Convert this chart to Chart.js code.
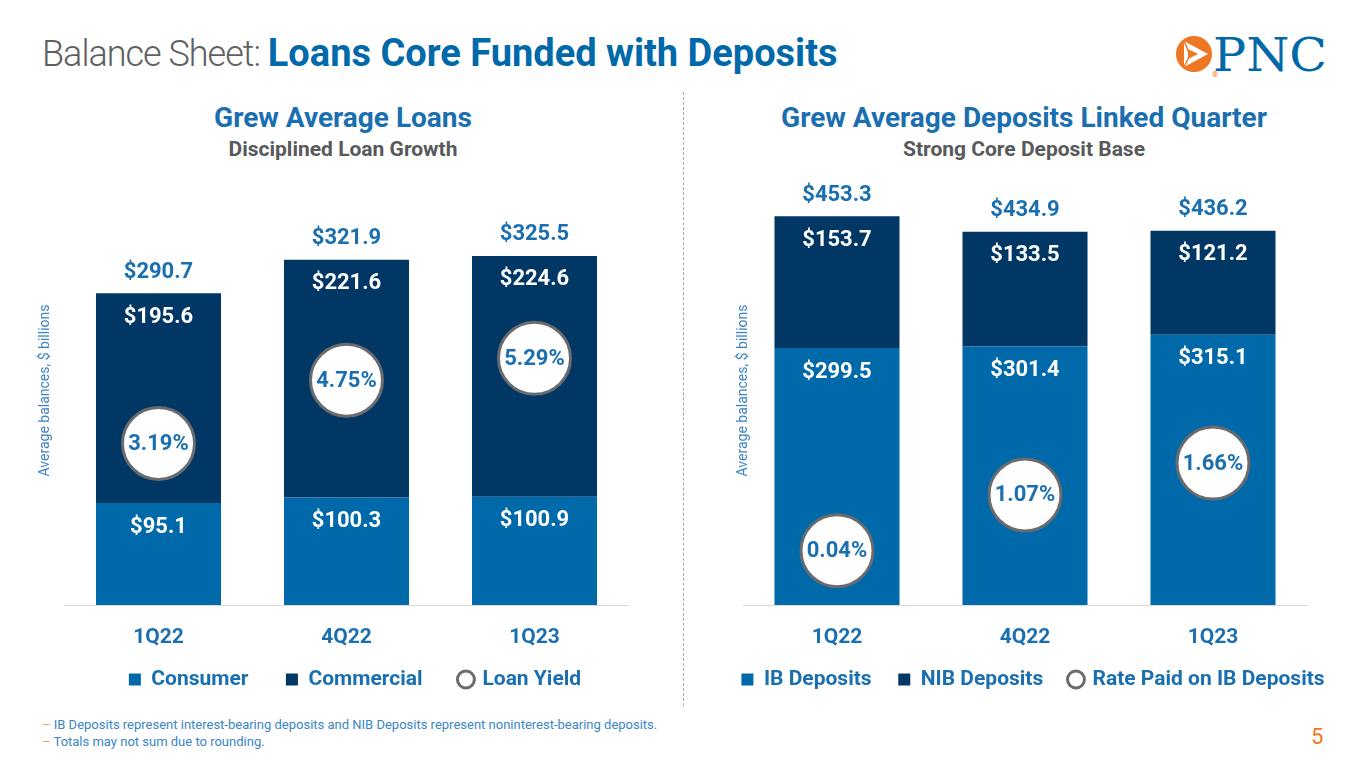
<!DOCTYPE html>
<html>
<head>
<meta charset="utf-8">
<style>
  body {
    margin: 0;
    width: 1365px;
    height: 768px;
    background: #fff;
    font-family: Roboto, 'Noto Sans', sans-serif;
    position: relative;
    overflow: hidden;
  }
  .title { position: absolute; left: 42px; top: 30px; font-size: 38px; line-height: 46px; white-space: nowrap; }
  .title .lead { font-weight: 300; color: #5f6062; font-size: 36px; letter-spacing: -1px; }
  .title .main { font-weight: 700; color: #0069aa; }
  .logo { position: absolute; left: 1165px; top: 25px; }
  .head { position: absolute; top: 101px; width: 600px; text-align: center; white-space: nowrap; }
  .head h2 { margin: 0; font-size: 28px; line-height: 34px; font-weight: 700; color: #1a6fb0; }
  .head h3 { margin: 0; font-size: 21px; line-height: 28px; font-weight: 700; color: #58595b; }
  .divider { position: absolute; left: 683px; top: 92px; height: 614px; border-left: 1px dashed #a6a6a6; }
  .chart { position: absolute; top: 176px; height: 524px; }
  .notes { position: absolute; left: 42px; top: 716px; font-size: 13px; line-height: 17px; color: #3a86c6; }
  .notes span { color: #f0a35e; }
  .page { position: absolute; left: 1311px; top: 724px; font-size: 22px; color: #ef7622; }
</style>
</head>
<body>
  <div class="title"><span class="lead">Balance Sheet: </span><span class="main">Loans Core Funded with Deposits</span></div>

  <svg class="logo" width="170" height="60" viewBox="1165 25 170 60">
    <circle cx="1194" cy="54" r="18" fill="#ef7622"/>
    <polygon points="1184,41 1208,54 1184,67" fill="#fff"/>
    <polygon points="1188,49 1198,54 1188,59" fill="#ef7622"/>
    <line x1="1184" y1="41" x2="1190" y2="55" stroke="#ef7622" stroke-width="1.5"/>
    <line x1="1184" y1="67" x2="1190" y2="55" stroke="#ef7622" stroke-width="1.5"/>
    <text x="1213" y="71" font-family="'DejaVu Serif', serif" font-size="46" fill="#0069aa"
          textLength="114" lengthAdjust="spacingAndGlyphs">PNC</text>
    <text x="1212" y="77" font-family="Roboto" font-size="8" fill="#ef7622">®</text>
  </svg>

  <div class="head" style="left:43px">
    <h2>Grew Average Loans</h2>
    <h3>Disciplined Loan Growth</h3>
  </div>
  <div class="head" style="left:724px">
    <h2>Grew Average Deposits Linked Quarter</h2>
    <h3>Strong Core Deposit Base</h3>
  </div>

  <div class="divider"></div>

  <div class="chart" style="left:20px; width:670px"><canvas id="loansChart"></canvas></div>
  <div class="chart" style="left:723px; width:620px"><canvas id="depositsChart"></canvas></div>

  <div class="notes">
    <div><span>–</span> IB Deposits represent interest-bearing deposits and NIB Deposits represent noninterest-bearing deposits.</div>
    <div><span>–</span> Totals may not sum due to rounding.</div>
  </div>
  <div class="page">5</div>

  <script src="https://cdn.jsdelivr.net/npm/chart.js"></script>
  <script>
    // values, $ billions and %
    const quarters = ['1Q22', '4Q22', '1Q23'];

    const consumer = [95.1, 100.3, 100.9];
    const commercial = [195.6, 221.6, 224.6];
    const loanTotals = [290.7, 321.9, 325.5];
    const loanYield = [3.19, 4.75, 5.29];

    const ibDeposits = [299.5, 301.4, 315.1];
    const nibDeposits = [153.7, 133.5, 121.2];
    const depositTotals = [453.3, 434.9, 436.2];
    const ibRate = [0.04, 1.07, 1.66];

    const lightBlue = '#0069aa';
    const navy = '#003764';
    const textBlue = '#1a6fb0';
    const ringGray = '#6a6b6e';

    Chart.defaults.font.family = 'Roboto';

    // value labels: white inside the segments, blue totals above, % inside the circles
    const valueLabels = {
      id: 'valueLabels',
      afterDatasetsDraw(chart, args, opts) {
        const ctx = chart.ctx;
        ctx.save();
        ctx.textAlign = 'center';
        ctx.textBaseline = 'middle';
        ctx.font = '700 22px Roboto';
        chart.data.datasets.forEach((ds, i) => {
          chart.getDatasetMeta(i).data.forEach((el, j) => {
            const v = ds.data[j];
            if (ds.type === 'line') {
              ctx.fillStyle = textBlue;
              ctx.fillText(v.toFixed(2) + '%', el.x, el.y + 1);
            } else {
              ctx.fillStyle = '#fff';
              ctx.fillText('$' + v.toFixed(1), el.x, el.y + 24);
            }
          });
        });
        const topBars = chart.getDatasetMeta(1).data;
        ctx.fillStyle = textBlue;
        opts.totals.forEach((t, j) => {
          ctx.fillText('$' + t.toFixed(1), topBars[j].x, topBars[j].y - 21);
        });
        ctx.restore();
      }
    };

    function makeChart(id, s) {
      return new Chart(document.getElementById(id), {
        data: {
          labels: quarters,
          datasets: [
            { type: 'bar', label: s.names[0], data: s.lower, backgroundColor: lightBlue,
              pointStyle: 'rect', order: 1, barPercentage: 0.665, categoryPercentage: 1 },
            { type: 'bar', label: s.names[1], data: s.upper, backgroundColor: navy,
              pointStyle: 'rect', order: 1, barPercentage: 0.665, categoryPercentage: 1 },
            { type: 'line', label: s.names[2], data: s.rate, yAxisID: 'y2', showLine: false,
              pointStyle: 'circle', pointRadius: 36, pointHoverRadius: 36, pointBorderWidth: 3,
              pointHoverBorderWidth: 3, pointBorderColor: ringGray, pointBackgroundColor: '#fff',
              borderColor: ringGray, backgroundColor: '#fff', order: 0 }
          ]
        },
        options: {
          responsive: true,
          maintainAspectRatio: false,
          animation: false,
          events: [],
          layout: { padding: 0, autoPadding: false },
          scales: {
            x: {
              stacked: true,
              grid: { display: false, drawTicks: false },
              border: { display: true, color: '#d9d9d9', width: 1 },
              ticks: { color: textBlue, font: { size: 21, weight: '700' }, padding: 20 },
              afterFit: (a) => { a.height = 48; }
            },
            y: {
              stacked: true,
              min: 0,
              max: s.yMax,
              ticks: { display: false },
              grid: { display: false, drawTicks: false },
              border: { display: false },
              title: {
                display: true,
                text: 'Average balances, $ billions',
                color: '#3f82c0',
                font: { size: 14 },
                padding: { top: s.titlePad, bottom: 0 }
              },
              afterFit: (a) => { a.width = s.leftW; }
            },
            y2: {
              position: 'right',
              min: s.rateMin,
              max: s.rateMax,
              ticks: { display: false },
              grid: { display: false, drawTicks: false },
              border: { display: false },
              afterFit: (a) => { a.width = s.rightW; }
            }
          },
          plugins: {
            tooltip: { enabled: false },
            valueLabels: { totals: s.totals },
            legend: {
              position: 'bottom',
              labels: {
                color: textBlue,
                font: { size: 21, weight: '700' },
                usePointStyle: true,
                boxWidth: 12,
                boxHeight: 12,
                padding: 16,
                sort: (a, b) => a.datasetIndex - b.datasetIndex,
                generateLabels(chart) {
                  const items = Chart.defaults.plugins.legend.labels.generateLabels(chart);
                  items.forEach((it) => { if (it.datasetIndex < 2) it.text += s.gap; });
                  return items;
                }
              }
            }
          }
        },
        plugins: [valueLabels]
      });
    }

    makeChart('loansChart', {
      names: ['Consumer', 'Commercial', 'Loan Yield'],
      lower: consumer, upper: commercial, rate: loanYield, totals: loanTotals,
      yMax: 400, rateMin: -0.79, rateMax: 9.78,
      leftW: 44.5, rightW: 61.5, titlePad: 16.6, gap: '\u2002\u2002'
    });

    makeChart('depositsChart', {
      names: ['IB Deposits', 'NIB Deposits', 'Rate Paid on IB Deposits'],
      lower: ibDeposits, upper: nibDeposits, rate: ibRate, totals: depositTotals,
      yMax: 500, rateMin: -0.963, rateMax: 6.963,
      leftW: 20, rightW: 36, titlePad: 11.6, gap: '\u2002'
    });
  </script>
</body>
</html>
